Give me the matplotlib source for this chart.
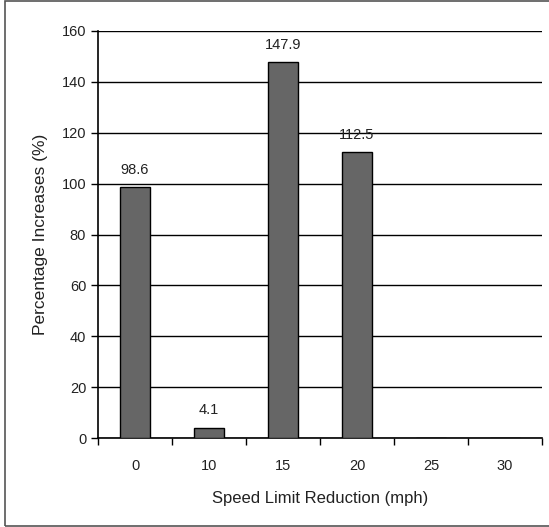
import matplotlib.pyplot as plt
import matplotlib.patches as patches
import numpy as np

# Data
categories = ['0', '10', '15', '20', '25', '30']
values = [98.6, 4.1, 147.9, 112.5, 0, 0]
labels = ['98.6', '4.1', '147.9', '112.5', '', '']

plt.rcParams['font.family'] = ['Liberation Sans', 'DejaVu Sans']

fig = plt.figure(figsize=(5.49, 5.27), dpi=100)
ax = fig.add_axes([98/549, 1-438/527, 444/549, 407/527])

x = np.arange(len(categories))
ax.bar(x, values, width=0.4, color='#666666', edgecolor='black', linewidth=1, zorder=3)

for xi, v, lab in zip(x, values, labels):
    if lab:
        ax.text(xi, v + 4, lab, ha='center', va='bottom', fontsize=10.5, color='#222222', zorder=4)

ax.set_xlim(-0.5, len(categories) - 0.5)
ax.set_ylim(0, 160)
ax.set_yticks(np.arange(0, 161, 20))
ax.yaxis.grid(True, color='black', linewidth=1)
ax.set_axisbelow(True)

# ticks between categories, labels centred
ax.set_xticks(np.arange(-0.5, len(categories), 1))
ax.set_xticklabels([])
ax.set_xticks(x, minor=True)
ax.set_xticklabels(categories, minor=True, fontsize=10.5, color='#222222')
ax.tick_params(axis='x', which='minor', length=0, pad=15)
ax.tick_params(axis='x', which='major', direction='out', length=5, width=1)
ax.tick_params(axis='y', direction='out', length=5, width=1, labelsize=10.5, labelcolor='#222222')

for s in ['top', 'right']:
    ax.spines[s].set_visible(False)
for s in ['left', 'bottom']:
    ax.spines[s].set_linewidth(1.2)

ax.set_xlabel('Speed Limit Reduction (mph)', fontsize=12, labelpad=13, color='#222222')
ax.set_ylabel('Percentage Increases (%)', fontsize=12.5, labelpad=10, color='#222222')

# outer chart border
fig.patches.append(patches.Rectangle((5/549, 1/527), 1.0, 525/527, transform=fig.transFigure,
                                     fill=False, edgecolor='#555555', linewidth=1.2))

fig.savefig('out.png', dpi=100)
